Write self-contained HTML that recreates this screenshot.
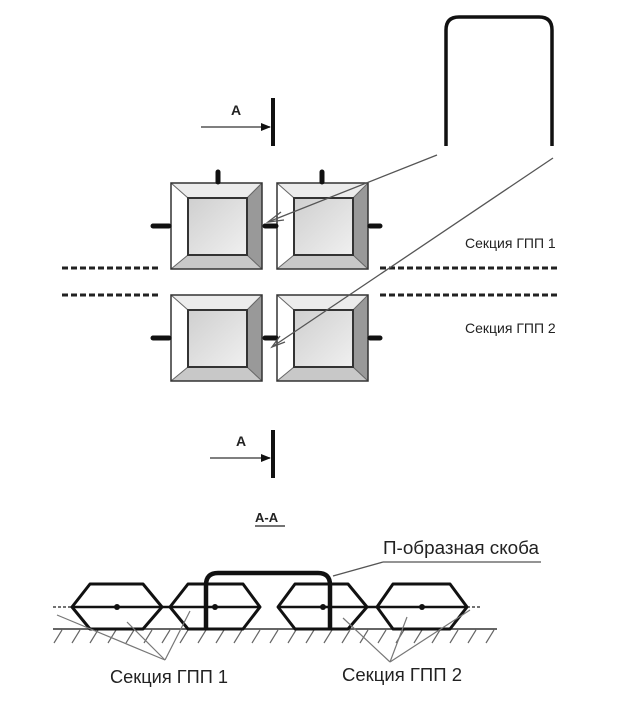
<!DOCTYPE html>
<html><head><meta charset="utf-8"><style>html,body{margin:0;padding:0;background:#fff}svg{display:block}</style></head><body>
<svg width="620" height="701" viewBox="0 0 620 701" xmlns="http://www.w3.org/2000/svg" font-family="Liberation Sans, sans-serif">
<defs>
<linearGradient id="g" x1="0" y1="0" x2="1" y2="1"><stop offset="0" stop-color="#cfcfcf"/><stop offset="1" stop-color="#f0f0f0"/></linearGradient>
<g id="box">
<polygon points="0,0 91,0 76,15 17,15" fill="#ececec"/>
<polygon points="0,0 17,15 17,72 0,86" fill="#fff"/>
<polygon points="91,0 91,86 76,72 76,15" fill="#999"/>
<polygon points="0,86 91,86 76,72 17,72" fill="#c8c8c8"/>
<line x1="0" y1="0" x2="17" y2="15" stroke="#666" stroke-width="1"/>
<line x1="91" y1="0" x2="76" y2="15" stroke="#666" stroke-width="1"/>
<line x1="0" y1="86" x2="17" y2="72" stroke="#666" stroke-width="1"/>
<line x1="91" y1="86" x2="76" y2="72" stroke="#666" stroke-width="1"/>
<rect x="0" y="0" width="91" height="86" fill="none" stroke="#333" stroke-width="1.5"/>
<rect x="17" y="15" width="59" height="57" fill="url(#g)" stroke="#333" stroke-width="2"/>
</g>
<marker id="ar" markerWidth="10" markerHeight="8" refX="9" refY="4" orient="auto" markerUnits="userSpaceOnUse"><path d="M0,0 L10,4 L0,8 Z" fill="#111"/></marker>
</defs>

<path d="M446,146 V30 Q446,17 459,17 H539 Q552,17 552,30 V146" fill="none" stroke="#111" stroke-width="3.5"/>

<g stroke="#222" stroke-width="3" stroke-dasharray="6,3">
<line x1="62" y1="268" x2="160" y2="268"/><line x1="380" y1="268" x2="560" y2="268"/>
<line x1="62" y1="295" x2="160" y2="295"/><line x1="380" y1="295" x2="560" y2="295"/>
</g>

<use href="#box" x="171" y="183"/>
<use href="#box" x="277" y="183"/>
<use href="#box" x="171" y="295"/>
<use href="#box" x="277" y="295"/>

<g stroke="#111" stroke-width="5" stroke-linecap="round">
<line x1="218" y1="172" x2="218" y2="182"/><line x1="322" y1="172" x2="322" y2="182"/>
<line x1="153" y1="226" x2="169" y2="226"/><line x1="265" y1="226" x2="276" y2="226"/><line x1="370" y1="226" x2="380" y2="226"/>
<line x1="153" y1="338" x2="169" y2="338"/><line x1="265" y1="338" x2="276" y2="338"/><line x1="370" y1="338" x2="380" y2="338"/>
</g>

<g stroke="#555" stroke-width="1.3" fill="none">
<line x1="437" y1="155" x2="268" y2="222"/>
<polyline points="281,212 268,222 284,220"/>
<line x1="553" y1="158" x2="272" y2="347"/>
<polyline points="280,336 272,347 285,342"/>
</g>

<text x="465" y="248" font-size="14" fill="#222">Секция ГПП 1</text>
<text x="465" y="333" font-size="14" fill="#222">Секция ГПП 2</text>

<line x1="201" y1="127" x2="270" y2="127" stroke="#555" stroke-width="1.5" marker-end="url(#ar)"/>
<line x1="273" y1="98" x2="273" y2="146" stroke="#111" stroke-width="4"/>
<text x="231" y="115" font-size="14" font-weight="bold" fill="#222">A</text>
<line x1="210" y1="458" x2="270" y2="458" stroke="#555" stroke-width="1.5" marker-end="url(#ar)"/>
<line x1="273" y1="430" x2="273" y2="478" stroke="#111" stroke-width="4"/>
<text x="236" y="446" font-size="14" font-weight="bold" fill="#222">A</text>
<text x="255" y="522" font-size="13" font-weight="bold" fill="#222">А-А</text>
<line x1="255" y1="526" x2="285" y2="526" stroke="#222" stroke-width="1.3"/>

<line x1="53" y1="629" x2="497" y2="629" stroke="#333" stroke-width="1.5"/>
<g stroke="#666" stroke-width="1.2">
<path d="M62,630 l-8,13 M80,630 l-8,13 M98,630 l-8,13 M116,630 l-8,13 M134,630 l-8,13 M152,630 l-8,13 M170,630 l-8,13 M188,630 l-8,13 M206,630 l-8,13 M224,630 l-8,13 M242,630 l-8,13 M260,630 l-8,13 M278,630 l-8,13 M296,630 l-8,13 M314,630 l-8,13 M332,630 l-8,13 M350,630 l-8,13 M368,630 l-8,13 M386,630 l-8,13 M404,630 l-8,13 M422,630 l-8,13 M440,630 l-8,13 M458,630 l-8,13 M476,630 l-8,13 M494,630 l-8,13"/>
</g>
<line x1="53" y1="607" x2="72" y2="607" stroke="#444" stroke-width="1.5" stroke-dasharray="3,2"/>
<line x1="467" y1="607" x2="482" y2="607" stroke="#444" stroke-width="1.5" stroke-dasharray="3,2"/>
<g fill="none" stroke="#111" stroke-width="3" stroke-linejoin="round">
<polygon points="72,607 90,584 143,584 162,607 143,629 90,629"/>
<polygon points="170,607 188,584 243,584 260,607 243,629 188,629"/>
<polygon points="278,607 295,584 348,584 367,607 348,629 295,629"/>
<polygon points="377,607 393,584 450,584 467,607 450,629 393,629"/>
<line x1="72" y1="607" x2="260" y2="607" stroke-width="2.5"/>
<line x1="278" y1="607" x2="467" y2="607" stroke-width="2.5"/>
</g>
<g fill="#111"><circle cx="117" cy="607" r="3"/><circle cx="215" cy="607" r="3"/><circle cx="323" cy="607" r="3"/><circle cx="422" cy="607" r="3"/></g>
<path d="M206,629 V585 Q206,573 218,573 H318 Q330,573 330,585 V629" fill="none" stroke="#111" stroke-width="4.5"/>
<line x1="383" y1="562" x2="333" y2="576" stroke="#555" stroke-width="1.3"/>
<line x1="383" y1="562" x2="541" y2="562" stroke="#555" stroke-width="1.3"/>
<text x="383" y="554" font-size="18.5" fill="#222" textLength="156" lengthAdjust="spacingAndGlyphs">П-образная скоба</text>
<g stroke="#777" stroke-width="1.2">
<line x1="57" y1="615" x2="165" y2="660"/><line x1="127" y1="622" x2="165" y2="660"/><line x1="190" y1="611" x2="165" y2="660"/>
<line x1="343" y1="618" x2="390" y2="662"/><line x1="407" y1="617" x2="390" y2="662"/><line x1="470" y1="610" x2="390" y2="662"/>
</g>
<text x="110" y="683" font-size="18" fill="#222" textLength="118" lengthAdjust="spacingAndGlyphs">Секция ГПП 1</text>
<text x="342" y="681" font-size="18" fill="#222" textLength="120" lengthAdjust="spacingAndGlyphs">Секция ГПП 2</text>
</svg>
</body></html>
